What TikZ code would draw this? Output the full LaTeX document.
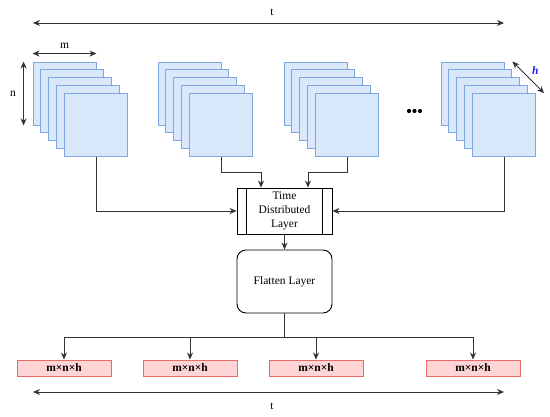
\documentclass[tikz,border=0pt]{standalone}
\usepackage{fontspec}
\setmainfont{Liberation Serif}
\usetikzlibrary{arrows.meta,positioning}

\definecolor{sqfill}{HTML}{DAE8FC}
\definecolor{sqline}{HTML}{7EA6E0}
\definecolor{outfill}{HTML}{FFD4D4}
\definecolor{outline}{HTML}{EA6B66}
\definecolor{hblue}{HTML}{2020F0}

\tikzset{
  frame/.style={draw=sqline, fill=sqfill, line width=0.9pt, minimum width=63pt, minimum height=63pt, inner sep=0pt},
  outbox/.style={draw=outline, fill=outfill, line width=0.9pt, minimum width=94pt, minimum height=16pt, inner sep=0pt,
    font=\fontsize{11.5}{13}\selectfont\bfseries},
  layer/.style={draw, line width=0.9pt, minimum width=95pt, align=center, inner sep=0pt,
    font=\fontsize{11.5}{14}\selectfont},
  link/.style={draw=black!80, line width=0.9pt, -{Stealth[length=7pt,width=6pt]}},
  span/.style={draw=black!80, line width=0.9pt, {Stealth[length=7pt,width=6pt]}-{Stealth[length=7pt,width=6pt]}},
  lbl/.style={font=\fontsize{11.5}{13}\selectfont},
}

\begin{document}
\begin{tikzpicture}[x=1pt, y=-1pt]
  \useasboundingbox (0,0) rectangle (550,417);

  % time axis
  \coordinate (tl) at (33,23);
  \coordinate (tr) at (504,23);
  \draw[span] (tl) -- (tr);
  \node[lbl] (tt) at (272,12) {t};

  % stacks of frames
  \foreach \X [count=\k] in {33,158,284,441}{
    \foreach \i in {0,...,4}
      \node[frame] (s\k-\i) at (\X+31.5+7.9*\i, 93.5+7.9*\i) {};
  }

  % frame sizes
  \draw[span] ([yshift=8pt]s1-0.north west) -- ([yshift=8pt]s1-0.north east)
    node[lbl, midway, above=1pt] (mm) {m};
  \draw[span] ([xshift=-9pt]s1-0.north west) -- ([xshift=-9pt]s1-0.south west)
    node[lbl, midway, left=4pt] (nn) {n};
  \draw[span] ([xshift=8pt]s4-0.north east) -- ([xshift=8pt]s4-4.north east)
    node[midway, above right=-1pt and 0pt, text=hblue, font=\fontsize{11.5}{13}\selectfont\bfseries\itshape] (hh) {h};

  % dots
  \foreach \x in {409,414.5,420}
    \fill (\x,111) circle (2.1pt);

  % layers
  \node[layer, minimum height=46pt] (td) at (284.5,211) {Time\\Distributed\\Layer};
  \draw[line width=0.9pt] ([xshift=10pt]td.north west) -- ([xshift=10pt]td.south west);
  \draw[line width=0.9pt] ([xshift=-10pt]td.north east) -- ([xshift=-10pt]td.south east);
  \node[layer, minimum height=63pt, rounded corners=9pt] (fl) at (284.5,281.5) {Flatten Layer};

  \draw[link] (s1-4.south) |- (td.west);
  \draw[link] (s4-4.south) |- (td.east);
  \draw[link] (s2-4.south) -- ++(0,15) -| ([xshift=-23.5pt]td.north);
  \draw[link] (s3-4.south) -- ++(0,15) -| ([xshift=23.5pt]td.north);
  \draw[link] (td.south) -- (fl.north);

  % outputs
  \foreach \x [count=\k] in {64,190,316,473}
    \node[outbox] (o\k) at (\x,368) {m×n×h};
  \draw[draw=black!80, line width=0.9pt] (fl.south) -- ++(0,24) coordinate (bus);
  \foreach \k in {1,...,4}
    \draw[link] (bus) -| (o\k.north);

  \coordinate (bl) at (33,392);
  \coordinate (br) at (504,392);
  \draw[span] (bl) -- (br);
  \node[lbl] (tb) at (272,406) {t};
\end{tikzpicture}
\end{document}
